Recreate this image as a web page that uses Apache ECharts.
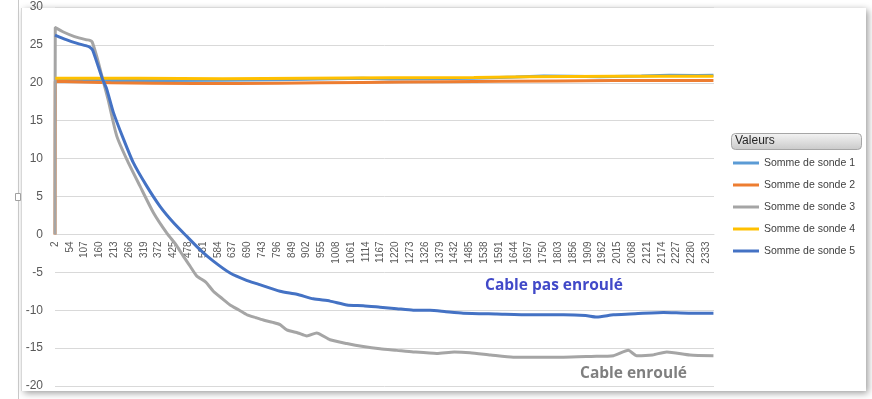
<!DOCTYPE html>
<html>
<head>
<meta charset="utf-8">
<script src="https://cdn.jsdelivr.net/npm/echarts@6/dist/echarts.min.js"></script>
<style>
html, body { margin: 0; padding: 0; background: #fff; }
#chart { width: 872px; height: 399px; }
</style>
</head>
<body>
<div id="chart"></div>
<script>
// étiquettes de l'axe X (une toutes les 53 mesures)
var xLabels = ['2','54','107','160','213','266','319','372','425','478','531','584','637','690','743','796',
  '849','902','955','1008','1061','1114','1167','1220','1273','1326','1379','1432','1485','1538','1591',
  '1644','1697','1750','1803','1856','1909','1962','2015','2068','2121','2174','2227','2280','2333'];
var labelStep = 53;
var seriesNames = ['Somme de sonde 1', 'Somme de sonde 2', 'Somme de sonde 3', 'Somme de sonde 4', 'Somme de sonde 5'];
var colors = ['#5B9BD5', '#ED7D31', '#A5A5A5', '#FFC000', '#4472C4'];

// [indice de mesure, température]
var sonde1 = [[1,20.3],[150,20.3],[400,20.3],[600,20.35],[800,20.4],[950,20.5],[1100,20.6],[1200,20.5],
  [1350,20.55],[1500,20.6],[1650,20.75],[1750,20.9],[1850,20.85],[1950,20.8],[2100,20.9],[2200,21.0],
  [2300,20.95],[2358,21.0]];
var sonde2 = [[0,0],[1,20.2],[100,20.1],[200,20.0],[350,19.95],[500,19.9],[650,19.9],[800,19.95],
  [950,20.0],[1100,20.05],[1250,20.1],[1400,20.15],[1600,20.2],[1800,20.25],[2000,20.3],[2200,20.3],[2358,20.3]];
var sonde3 = [[0,0],[1,27.3],[30,26.7],[70,26.1],[110,25.7],[125,25.6],[133,25.4],[150,23.4],[170,20.6],
  [190,17.8],[221,13.0],[257,9.9],[304,6.4],[352,2.9],[400,0.2],[436,-1.5],[460,-2.9],[484,-4.2],[508,-5.5],
  [540,-6.3],[567,-7.5],[600,-8.5],[627,-9.3],[660,-10.0],[687,-10.6],[720,-11.0],[746,-11.3],[780,-11.6],
  [806,-11.9],[830,-12.6],[870,-13.0],[902,-13.4],[937,-13.0],[985,-13.9],[1045,-14.4],[1104,-14.8],
  [1164,-15.1],[1224,-15.3],[1283,-15.5],[1367,-15.7],[1430,-15.5],[1486,-15.6],[1560,-15.9],[1641,-16.2],
  [1730,-16.2],[1821,-16.2],[1920,-16.1],[2000,-16.0],[2053,-15.3],[2083,-16.0],[2140,-15.9],[2191,-15.5],
  [2274,-15.9],[2358,-16.0]];
var sonde4 = [[1,20.6],[300,20.6],[600,20.55],[900,20.6],[1200,20.65],[1500,20.7],[1700,20.8],
  [2000,20.85],[2358,20.85]];
var sonde5 = [[0,26.3],[40,25.7],[80,25.2],[110,24.9],[125,24.7],[135,24.3],[170,20.5],[185,19.2],
  [209,16.1],[245,12.6],[280,9.5],[328,6.4],[376,3.7],[423,1.6],[473,-0.3],[519,-2.0],[566,-3.5],
  [627,-5.1],[688,-6.1],[722,-6.5],[806,-7.5],[866,-7.9],[925,-8.5],[985,-8.8],[1045,-9.3],
  [1104,-9.4],[1164,-9.6],[1224,-9.8],[1283,-10.0],[1343,-10.0],[1400,-10.2],[1462,-10.4],[1582,-10.5],
  [1701,-10.6],[1821,-10.6],[1900,-10.7],[1940,-10.9],[2000,-10.6],[2059,-10.5],[2179,-10.3],
  [2270,-10.4],[2358,-10.4]];
var allData = [sonde1, sonde2, sonde3, sonde4, sonde5];

var chart = echarts.init(document.getElementById('chart'));

var option = {
  animation: false,
  color: colors,
  grid: { left: 55, right: 158, top: 7, bottom: 13, outerBoundsMode: 'none' },
  xAxis: {
    type: 'value',
    min: 0,
    max: 2360,
    interval: labelStep,
    position: 'bottom',
    offset: -151.6,   // l'axe croise Y à 0
    axisLine: { onZero: false, lineStyle: { color: '#D9D9D9', width: 1 } },
    axisTick: { show: false },
    splitLine: { show: false },
    axisLabel: {
      rotate: 90,
      margin: 7,
      fontSize: 10,
      fontFamily: 'Liberation Sans',
      color: '#595959',
      hideOverlap: false,
      showMaxLabel: false,
      formatter: function (v) {
        if (v % labelStep !== 0) return '';
        return xLabels[v / labelStep] || '';
      }
    }
  },
  yAxis: {
    type: 'value',
    min: -20,
    max: 30,
    interval: 5,
    axisLine: { show: false },
    axisTick: { show: false },
    splitLine: { lineStyle: { color: '#D9D9D9', width: 1 } },
    axisLabel: { fontSize: 12, fontFamily: 'Liberation Sans', color: '#595959', margin: 12 }
  },
  legend: {
    orient: 'vertical',
    left: 733,
    top: 157,
    padding: 0,
    icon: 'rect',
    itemWidth: 26,
    itemHeight: 3,
    itemGap: 10,
    textStyle: { fontSize: 10.5, fontFamily: 'Liberation Sans', color: '#404040', lineHeight: 12 },
    data: seriesNames
  },
  series: allData.map(function (d, i) {
    return {
      name: seriesNames[i],
      type: 'line',
      data: d,
      symbol: 'none',
      smooth: (i === 2 || i === 4) ? 0.2 : false,
      lineStyle: { width: 3, color: colors[i] },
      itemStyle: { color: colors[i] }
    };
  }),
  graphic: [
    { // cadre du graphique avec ombre
      type: 'rect', z: -10, silent: true,
      shape: { x: 22, y: 8, width: 844, height: 383 },
      style: { fill: '#fff', shadowBlur: 7, shadowColor: 'rgba(0,0,0,0.4)', shadowOffsetX: 2, shadowOffsetY: 2 }
    },
    { type: 'line', z: -5, silent: true, shape: { x1: 18.5, y1: 0, x2: 18.5, y2: 399 }, style: { stroke: '#C8C8C8', lineWidth: 1 } },
    { type: 'line', z: -5, silent: true, shape: { x1: 21.5, y1: 8, x2: 21.5, y2: 391 }, style: { stroke: '#D8D8D8', lineWidth: 1 } },
    { type: 'rect', z: 5, silent: true, shape: { x: 15.5, y: 193.5, width: 5, height: 7 }, style: { fill: '#fff', stroke: '#A0A0A0', lineWidth: 1 } },
    { // en-tête de légende
      type: 'rect', z: 5, silent: true,
      shape: { x: 731.5, y: 133.5, width: 130, height: 16, r: 4 },
      style: {
        stroke: '#A6A6A6', lineWidth: 1,
        fill: new echarts.graphic.LinearGradient(0, 0, 0, 1, [
          { offset: 0, color: '#F4F4F4' }, { offset: 1, color: '#C9C9C9' }
        ])
      }
    },
    { type: 'text', z: 6, silent: true, left: 735, top: 135,
      style: { text: 'Valeurs', fontSize: 12, fontFamily: 'Liberation Sans', fill: '#262626' } },
    { type: 'text', z: 6, silent: true, left: 485, top: 278,
      style: { text: 'Cable pas enroulé', fontSize: 15.5, fontWeight: 'bold', fontFamily: 'Open Sans', fill: '#4149C8' } },
    { type: 'text', z: 6, silent: true, left: 580, top: 366,
      style: { text: 'Cable enroulé', fontSize: 15.5, fontWeight: 'bold', fontFamily: 'Open Sans', fill: '#7F7F7F' } }
  ]
};

chart.setOption(option);
</script>
</body>
</html>
